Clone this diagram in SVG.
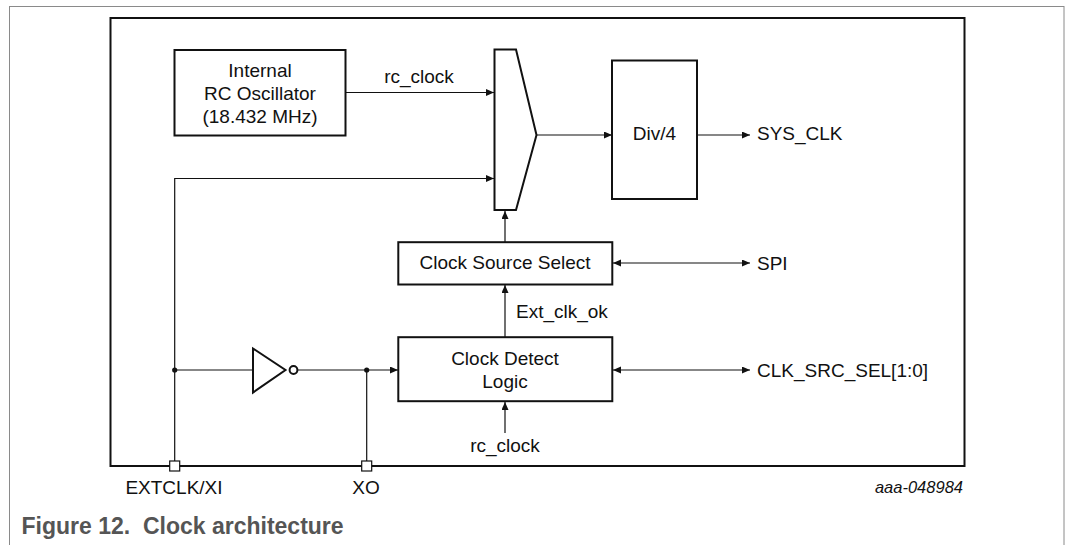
<svg xmlns="http://www.w3.org/2000/svg" width="1066" height="545" viewBox="0 0 1066 545">
<style>
  .box{fill:#fff;stroke:#111;stroke-width:2}
  .ln{fill:none;stroke:#111;stroke-width:1.2}
  .t{font-family:"Liberation Sans",Arial,sans-serif;font-size:19px;fill:#111}
  .m{text-anchor:middle}
</style>
<defs>
  <marker id="ah" markerUnits="userSpaceOnUse" markerWidth="9" markerHeight="8" refX="8" refY="3.5" orient="auto-start-reverse">
    <path d="M0,0 L8,3.5 L0,7 z" fill="#111"/>
  </marker>
</defs>
<rect width="1066" height="545" fill="#fff"/>
<rect x="9.5" y="6.5" width="1054.5" height="560" fill="none" stroke="#8a8a8a" stroke-width="1"/>
<rect id="chip" x="110.5" y="18" width="854" height="448" fill="none" stroke="#111" stroke-width="2"/>

<g id="connectors">
  <line class="ln" x1="345.5" y1="92.5" x2="494" y2="92.5" marker-end="url(#ah)"/>
  <polyline class="ln" points="174.7,466 174.7,178.5 494,178.5" marker-end="url(#ah)"/>
  <line class="ln" x1="537" y1="135" x2="612" y2="135" marker-end="url(#ah)"/>
  <line class="ln" x1="697" y1="135" x2="750" y2="135" marker-end="url(#ah)"/>
  <line class="ln" x1="505" y1="242" x2="505" y2="211" marker-end="url(#ah)"/>
  <line class="ln" x1="505" y1="337" x2="505" y2="285" marker-end="url(#ah)"/>
  <line class="ln" x1="505" y1="433" x2="505" y2="402" marker-end="url(#ah)"/>
  <line class="ln" x1="613" y1="263" x2="750" y2="263" marker-start="url(#ah)" marker-end="url(#ah)"/>
  <line class="ln" x1="613" y1="370" x2="750" y2="370" marker-start="url(#ah)" marker-end="url(#ah)"/>
  <line class="ln" x1="174.7" y1="370" x2="253" y2="370"/>
  <line class="ln" x1="297.5" y1="370" x2="398" y2="370" marker-end="url(#ah)"/>
  <line class="ln" x1="366.7" y1="370" x2="366.7" y2="466"/>
  <circle cx="174.7" cy="370" r="2.6" fill="#111"/>
  <circle cx="366.7" cy="370" r="2.6" fill="#111"/>
</g>

<g id="rc_osc">
  <rect class="box" x="174.5" y="50" width="171" height="85.5"/>
  <text class="t m" x="260" y="77">Internal</text>
  <text class="t m" x="260" y="100">RC Oscillator</text>
  <text class="t m" x="260" y="123">(18.432 MHz)</text>
</g>
<text class="t m" x="419" y="83">rc_clock</text>

<g id="mux">
  <polygon points="494.5,49.5 516,49.5 536.5,135 516,210 494.5,210" fill="#fff" stroke="#111" stroke-width="2" stroke-linejoin="miter"/>
</g>

<g id="div4">
  <rect class="box" x="612" y="60.5" width="85" height="138.5"/>
  <text class="t m" x="654.5" y="139.5">Div/4</text>
</g>
<text class="t" x="757" y="139.5">SYS_CLK</text>

<g id="css">
  <rect class="box" x="398.3" y="242.2" width="214" height="42.3"/>
  <text class="t m" x="505" y="268.5">Clock Source Select</text>
</g>
<text class="t" x="757" y="270">SPI</text>
<text class="t" x="516" y="318">Ext_clk_ok</text>

<g id="cdl">
  <rect class="box" x="398.3" y="337.2" width="214" height="64"/>
  <text class="t m" x="505" y="365">Clock Detect</text>
  <text class="t m" x="505" y="388">Logic</text>
</g>
<text class="t" x="757" y="376.5">CLK_SRC_SEL[1:0]</text>
<text class="t m" x="505" y="452">rc_clock</text>

<g id="inverter">
  <polygon points="253,348.5 253,392.5 285.5,370" fill="#fff" stroke="#111" stroke-width="2"/>
  <circle cx="293.5" cy="370" r="3.9" fill="#fff" stroke="#111" stroke-width="2"/>
</g>

<g id="pin_xi">
  <rect x="169.7" y="461" width="10" height="10" fill="#fff" stroke="#111" stroke-width="1.2"/>
  <text class="t m" x="174" y="494">EXTCLK/XI</text>
</g>
<g id="pin_xo">
  <rect x="361.7" y="461" width="10" height="10" fill="#fff" stroke="#111" stroke-width="1.2"/>
  <text class="t m" x="366" y="494">XO</text>
</g>

<text x="963" y="493" text-anchor="end" font-family="'Liberation Sans',Arial,sans-serif" font-style="italic" font-size="16.5" fill="#111">aaa-048984</text>
<text x="21.5" y="534" xml:space="preserve" font-family="'Liberation Sans',Arial,sans-serif" font-weight="bold" font-size="23" fill="#555">Figure 12.  Clock architecture</text>
</svg>
